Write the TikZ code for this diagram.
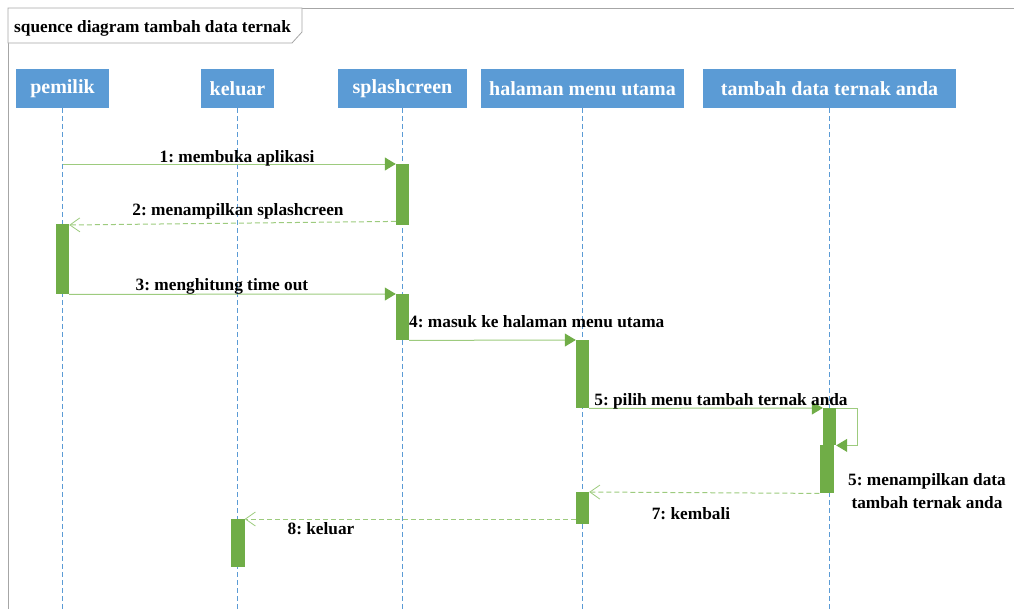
\documentclass[tikz,border=0pt]{standalone}
\usepackage{fontspec}
\setmainfont{Liberation Serif}
\usetikzlibrary{arrows.meta}
\definecolor{lifeblue}{HTML}{5B9BD5}
\definecolor{barGreen}{HTML}{70AD47}
\definecolor{msgGreen}{HTML}{9DCB7E}
\definecolor{frameGray}{HTML}{A6A6A6}
\frenchspacing
\begin{document}
\begin{tikzpicture}[x=1pt,y=-1pt,
  header/.style={fill=lifeblue,draw=none,text=white,inner sep=0pt,
    font=\fontsize{20}{24}\selectfont\bfseries,minimum height=39pt},
  lifeline/.style={lifeblue,line width=0.8pt,dash pattern=on 5pt off 3pt},
  actbar/.style={fill=barGreen,draw=none,inner sep=0pt,minimum width=13pt,anchor=north},
  msg/.style={msgGreen,line width=1pt,-{Triangle[length=11pt,width=13pt,color=barGreen]}},
  reply/.style={msgGreen,line width=1pt,dash pattern=on 5pt off 3pt,
    -{Straight Barb[length=10pt,width=14pt,line width=0.8pt,color=msgGreen]}},
  lbl/.style={font=\fontsize{17.3}{20}\selectfont\bfseries,inner sep=0pt,anchor=base},
]
\useasboundingbox (0,0) rectangle (1014,608);

% outer frame and title tab
\draw[frameGray,line width=0.8pt] (8,612) -- (8,8) -- (1020,8);
\draw[frameGray,line width=0.8pt,fill=white] (8,8) -- (302,8) -- (302,32) -- (292,43) -- (8,43) -- cycle;
\node[lbl,anchor=base west] (title) at (14,32) {squence diagram tambah data ternak};

% lifeline heads
\node[header,minimum width=93pt]  (pemilik) at (62.5,88.5) {pemilik};
\node[header,minimum width=73pt]  (keluar)  at (237.5,88.5) {keluar};
\node[header,minimum width=129pt] (splash)  at (402.5,88.5) {splashcreen};
\node[header,minimum width=203pt] (menu)    at (582.5,88.5) {halaman menu utama};
\node[header,minimum width=253pt] (tambah)  at (829.5,88.5) {tambah data ternak anda};

% lifelines
\foreach \h in {pemilik,keluar,splash,menu,tambah}{
  \coordinate (\h-end) at (\h.south |- 0,610);
  \draw[lifeline] (\h.south) -- (\h-end);
}

% activation bars
\node[actbar,minimum height=61pt] (s1) at (splash.south |- 0,164) {};
\node[actbar,minimum height=70pt] (p1) at (pemilik.south |- 0,224) {};
\node[actbar,minimum height=46pt] (s2) at (splash.south |- 0,294) {};
\node[actbar,minimum height=68pt] (m1) at (menu.south |- 0,340) {};
\node[actbar,minimum height=37pt] (t1) at (tambah.south |- 0,408) {};
\node[actbar,minimum height=48pt,minimum width=14pt] (t2) at ([xshift=-3pt]tambah.south |- 0,445) {};
\node[actbar,minimum height=32pt] (m2) at (menu.south |- 0,492) {};
\node[actbar,minimum height=48pt,minimum width=14pt] (k1) at (keluar.south |- 0,519) {};

% messages
\coordinate (m1start) at (pemilik.south |- s1.north west);
\draw[msg] (m1start) -- (s1.north west);
\node[lbl] (l1) at (237,162) {1: membuka aplikasi};

\draw[reply] ([yshift=4pt]s1.south west) -- ([yshift=-1pt]p1.north east);
\node[lbl] (l2) at (238,215) {2: menampilkan splashcreen};

\draw[msg] (p1.south east) -- (s2.north west);
\node[lbl] (l3) at (222,290) {3: menghitung time out};

\draw[msg] (s2.south east) -- (m1.north west);
\node[lbl,anchor=base west] (l4) at (409,327) {4: masuk ke halaman menu utama};

\draw[msg] (m1.south east) -- (t1.north west);
\node[lbl] (l5) at (721,405) {5: pilih menu tambah ternak anda};

\coordinate (selfturn) at ([xshift=21pt]t1.north east);
\draw[msg] (t1.north east) -- (selfturn) |- (t1.south east);
\node[lbl] (l6a) at (927,485) {5: menampilkan data};
\node[lbl] (l6b) at (927,508) {tambah ternak anda};

\draw[reply] (t2.south west) -- (m2.north east);
\node[lbl] (l7) at (691,519) {7: kembali};

\draw[reply] (m2.west |- k1.north) -- (k1.north east);
\node[lbl] (l8) at (321,534) {8: keluar};
\end{tikzpicture}
\end{document}
